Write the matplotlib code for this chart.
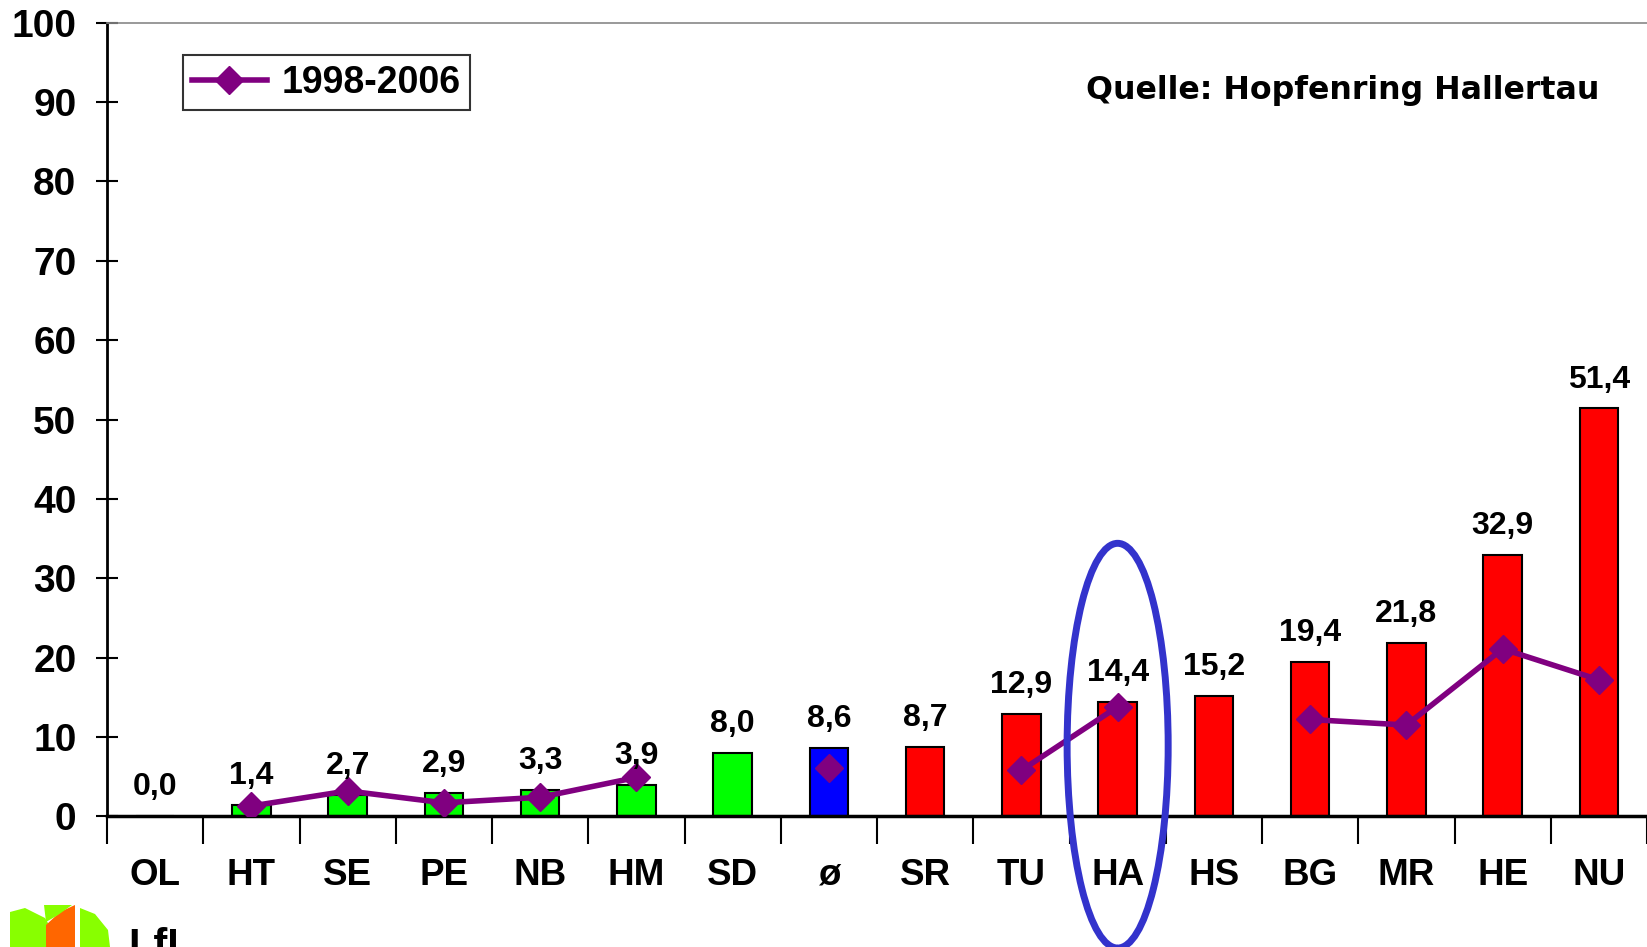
import matplotlib.pyplot as plt
import numpy as np
from matplotlib.patches import Ellipse, Polygon

plt.rcParams['font.family'] = ['Liberation Sans', 'DejaVu Sans']
plt.rcParams['font.weight'] = 'bold'

# Daten
kategorien = ['OL', 'HT', 'SE', 'PE', 'NB', 'HM', 'SD', 'ø', 'SR', 'TU',
              'HA', 'HS', 'BG', 'MR', 'HE', 'NU']
werte = [0.0, 1.4, 2.7, 2.9, 3.3, 3.9, 8.0, 8.6, 8.7, 12.9,
         14.4, 15.2, 19.4, 21.8, 32.9, 51.4]
farben = ['#00FF00'] * 7 + ['#0000FF'] + ['#FF0000'] * 8
mittel_98_06 = [np.nan, 1.3, 3.2, 1.7, 2.4, 4.9, np.nan, 6.1, np.nan, 5.8,
                13.8, np.nan, 12.2, 11.5, 21.1, 17.2]
werte_labels = [f'{v:.1f}'.replace('.', ',') for v in werte]

fig = plt.figure(figsize=(16.47, 9.47), dpi=100)
ax = fig.add_axes([0.065, 0.138, 0.935, 0.838])

x = np.arange(len(kategorien))
ax.bar(x, werte, width=0.4, color=farben, edgecolor='black', linewidth=1.5, zorder=2)
ax.plot(x, mittel_98_06, color='#800080', lw=4, marker='D', markersize=14,
        label='1998-2006', zorder=3)

for xi, v, lab in zip(x, werte, werte_labels):
    ax.annotate(lab, (xi, v), xytext=(0, 10), textcoords='offset points',
                ha='center', va='bottom', fontsize=23, fontweight='bold')

ax.set_xlim(-0.5, 15.5)
ax.set_ylim(0, 100)
ax.set_yticks(np.arange(0, 101, 10))
ax.tick_params(axis='y', direction='inout', length=16, width=1.5,
               labelsize=28, pad=14)
ax.set_xticks(x)
ax.set_xticklabels(kategorien)
ax.tick_params(axis='x', which='major', length=0, labelsize=26.5, pad=30)
ax.set_xticks(np.arange(-0.5, 16, 1), minor=True)
ax.tick_params(axis='x', which='minor', direction='out', length=20, width=1.5)

ax.spines['left'].set_linewidth(2)
ax.spines['bottom'].set_linewidth(2.5)
ax.spines['top'].set_color('#888888')
ax.spines['top'].set_linewidth(1.2)
ax.spines['right'].set_visible(False)

leg = ax.legend(loc='upper left', bbox_to_anchor=(0.049, 0.959), fontsize=27,
                frameon=True, fancybox=False, edgecolor='black', handlelength=2.0,
                handletextpad=0.4, borderpad=0.25, borderaxespad=0)
leg.get_frame().set_linewidth(1.5)

ax.text(0.969, 0.915, 'Quelle: Hopfenring Hallertau', transform=ax.transAxes,
        ha='right', va='center', fontsize=22.8, fontweight='bold',
        family=['DejaVu Sans'])

# Markierung HA
ell = Ellipse((10, 8.9), width=1.05, height=51, fill=False,
              edgecolor='#3333CC', lw=5, clip_on=False, zorder=4)
ax.add_patch(ell)

# LfL-Logo (angeschnitten)
fx = lambda px: px / 1647
fy = lambda py: 1 - py / 947
logo = [
    ([(10, 947), (10, 912), (25, 908), (45, 918), (55, 935), (55, 947)], '#88FF00'),
    ([(46, 947), (46, 925), (60, 912), (75, 905), (75, 947)], '#FF6600'),
    ([(80, 947), (80, 908), (95, 914), (108, 930), (110, 947)], '#88FF00'),
    ([(44, 905), (72, 905), (58, 915), (46, 922)], '#88FF00'),
]
for pts, c in logo:
    fig.patches.append(Polygon([(fx(a), fy(b)) for a, b in pts], closed=True,
                               facecolor=c, edgecolor='none',
                               transform=fig.transFigure, figure=fig))
fig.text(fx(128), fy(947), 'LfL', fontsize=30, fontweight='bold',
         ha='left', va='center', color='black')

fig.savefig('out.png', dpi=100)
